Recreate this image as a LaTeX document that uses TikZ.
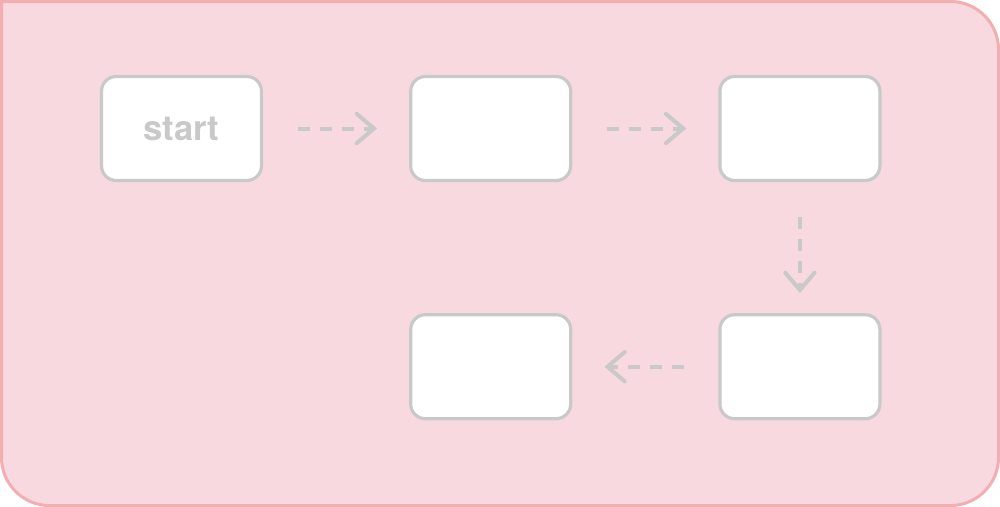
\documentclass[tikz,border=0pt]{standalone}
\usepackage{fontspec}
\newfontfamily\labelfont{TeX Gyre Heros}
\usetikzlibrary{arrows.meta, positioning}
\definecolor{panelfill}{HTML}{F9D9E0}
\definecolor{paneldraw}{HTML}{F2AEB1}
\definecolor{boxgray}{HTML}{C9C9C9}
\tikzstyle{frame} = [fill=panelfill, draw=paneldraw, line width=2.25pt]
\tikzstyle{stage} = [draw=boxgray, fill=white, line width=2.4pt, rectangle, rounded corners=11pt, minimum width=120pt, minimum height=78pt, inner sep=0pt, font=\labelfont\bfseries\fontsize{26}{26}\selectfont, text=boxgray]
\tikzset{flow/.style={-{Straight Barb[length=13pt, width=22pt, line cap=round]}, draw=boxgray, line width=3pt, dash pattern=on 9pt off 7.5pt, shorten <=26pt, shorten >=24pt}}

\begin{document}
\begin{tikzpicture}[x=0.75pt, y=-0.75pt]
    \useasboundingbox (0,0) rectangle (1000,507);
    \draw [frame] (1.5,1.5) -- (950.5,1.5) arc [start angle=90, end angle=0, radius=36pt]
        -- (998.5,457.5) arc [start angle=0, end angle=-90, radius=36pt]
        -- (49.5,505.5) arc [start angle=270, end angle=180, radius=36pt] -- cycle;

    \node (start) [stage] at (181.5,128.5) {start};
    \node (second) [stage, right=109.5pt of start] {};
    \node (third) [stage, right=109.5pt of second] {};
    \node (fourth) [stage, below=98.25pt of third] {};
    \node (fifth) [stage, left=109.5pt of fourth] {};

    % Arrows.
    \draw [flow] (start) -- (second);
    \draw [flow] (second) -- (third);
    \draw [flow, shorten >=15pt] (third) -- (fourth);
    \draw [flow] (fourth) -- (fifth);
\end{tikzpicture}
\end{document}
